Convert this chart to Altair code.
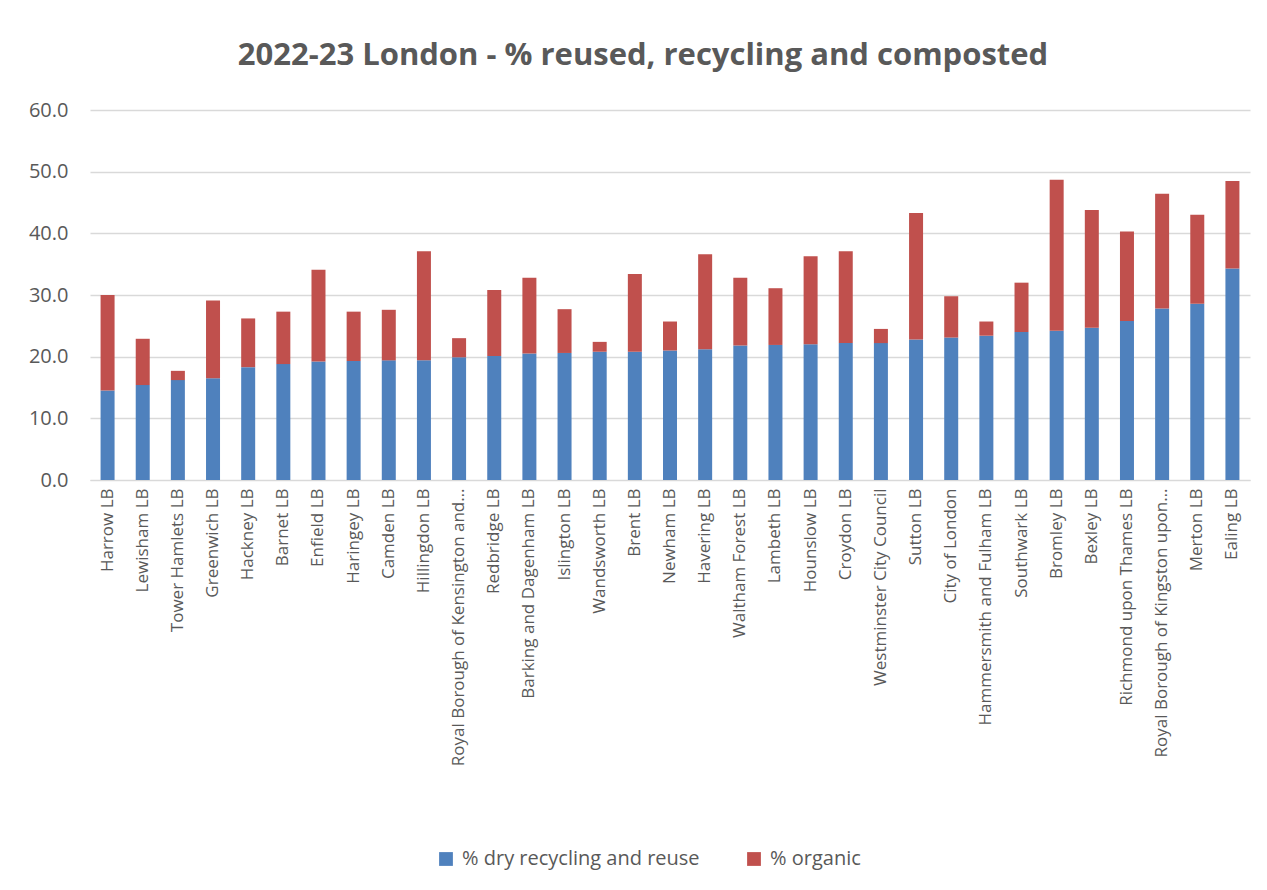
import altair as alt
import pandas as pd

boroughs = [
    "Harrow LB", "Lewisham LB", "Tower Hamlets LB", "Greenwich LB", "Hackney LB",
    "Barnet LB", "Enfield LB", "Haringey LB", "Camden LB", "Hillingdon LB",
    "Royal Borough of Kensington and…", "Redbridge LB", "Barking and Dagenham LB",
    "Islington LB", "Wandsworth LB", "Brent LB", "Newham LB", "Havering LB",
    "Waltham Forest LB", "Lambeth LB", "Hounslow LB", "Croydon LB",
    "Westminster City Council", "Sutton LB", "City of London",
    "Hammersmith and Fulham LB", "Southwark LB", "Bromley LB", "Bexley LB",
    "Richmond upon Thames LB", "Royal Borough of Kingston upon…", "Merton LB",
    "Ealing LB",
]
dry = [14.5, 15.4, 16.2, 16.5, 18.3, 18.8, 19.2, 19.3, 19.4, 19.4,
       19.9, 20.1, 20.5, 20.6, 20.8, 20.8, 21.0, 21.2, 21.8, 21.9,
       22.0, 22.2, 22.2, 22.8, 23.1, 23.4, 24.0, 24.2, 24.7, 25.8,
       27.8, 28.6, 34.3]
total = [30.0, 22.9, 17.7, 29.1, 26.2, 27.3, 34.1, 27.3, 27.6, 37.1,
         23.0, 30.8, 32.8, 27.7, 22.4, 33.4, 25.7, 36.6, 32.8, 31.1,
         36.3, 37.1, 24.5, 43.3, 29.8, 25.7, 32.0, 48.7, 43.8, 40.3,
         46.4, 43.0, 48.5]
organic = [round(t - d, 1) for t, d in zip(total, dry)]

series = ["% dry recycling and reuse", "% organic"]
colors = ["#4f81bd", "#c0504d"]

rows = []
for b, d, o in zip(boroughs, dry, organic):
    rows.append({"borough": b, "series": series[0], "value": d, "ord": 0})
    rows.append({"borough": b, "series": series[1], "value": o, "ord": 1})
df = pd.DataFrame(rows)

FONT = "Open Sans"
GRAY = "#595959"

chart = alt.Chart(df).mark_bar(size=14).encode(
    x=alt.X("borough:N", sort=boroughs, title=None,
            axis=alt.Axis(labelAngle=-90, labelFontSize=17, labelColor=GRAY,
                          labelFont=FONT, ticks=False, domainColor="#d9d9d9",
                          labelPadding=8, labelLimit=400)),
    y=alt.Y("value:Q", stack="zero", title=None,
            scale=alt.Scale(domain=[0, 60], nice=False),
            axis=alt.Axis(values=[0, 10, 20, 30, 40, 50, 60], format=".1f",
                          labelFontSize=20, labelColor=GRAY, labelFont=FONT,
                          domain=False, ticks=False, gridColor="#d9d9d9",
                          gridWidth=1.3, labelPadding=22)),
    color=alt.Color("series:N", sort=series,
                    scale=alt.Scale(domain=series, range=colors),
                    legend=alt.Legend(title=None, orient="none", legendX=346,
                                      legendY=739, direction="horizontal",
                                      symbolType="square", symbolSize=190,
                                      labelFontSize=20, labelColor=GRAY,
                                      labelFont=FONT, columnPadding=44,
                                      labelOffset=6,
                                      labelLimit=400, symbolStrokeWidth=0)),
    order=alt.Order("ord:Q", sort="ascending"),
).properties(
    width=1160,
    height=370,
    title=alt.TitleParams("2022-23 London - % reused, recycling and composted",
                          fontSize=31, font=FONT, fontWeight="bold",
                          color=GRAY, anchor="middle", dx=-27, offset=28),
    autosize=alt.AutoSizeParams(type="none"),
    padding={"left": 82, "top": 102, "right": 9, "bottom": 402},
).configure(background="white").configure_view(stroke=None, strokeWidth=0)

chart.save("out.html", embed_options={"renderer": "svg", "actions": False})
